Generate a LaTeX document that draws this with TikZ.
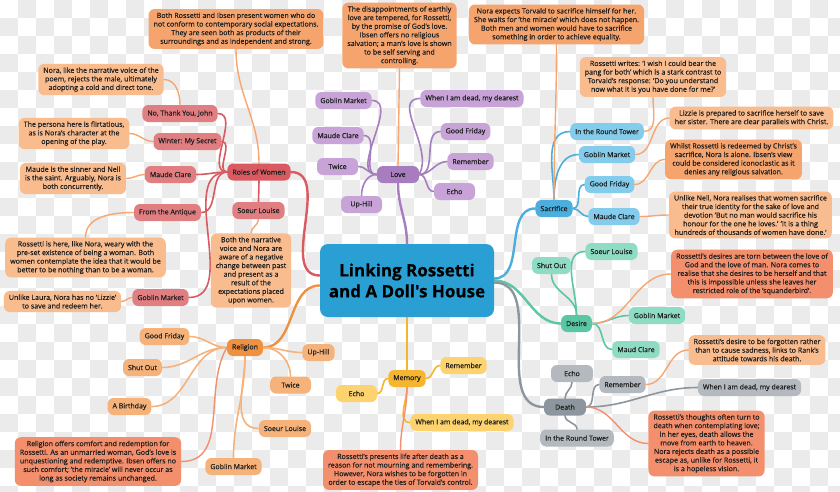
\documentclass[tikz,border=0pt]{standalone}
\usepackage{fontspec}
\setmainfont{Open Sans}[FakeBold=0.5]
\newfontfamily\titlefont{Open Sans}[FakeBold=0.3]
\definecolor{txt}{HTML}{1E1E1E}
\definecolor{chk}{HTML}{EBEBEB}
\definecolor{central}{HTML}{2A9FD4}
\definecolor{rolesM}{HTML}{D95A60}
\definecolor{rolesS}{HTML}{E17E82}
\definecolor{relM}{HTML}{EE9241}
\definecolor{relS}{HTML}{F5B37B}
\definecolor{loveM}{HTML}{A77DBF}
\definecolor{loveS}{HTML}{C7A3D8}
\definecolor{memM}{HTML}{F6B52E}
\definecolor{memS}{HTML}{FCD36F}
\definecolor{sacM}{HTML}{4BAEDC}
\definecolor{sacS}{HTML}{84CCEB}
\definecolor{desM}{HTML}{5AC6A4}
\definecolor{desS}{HTML}{8FDCC4}
\definecolor{deaM}{HTML}{8D969E}
\definecolor{deaS}{HTML}{B3B9BE}
\definecolor{cDark}{HTML}{F5A46E}
\definecolor{cLight}{HTML}{F9BC8F}
\definecolor{cSalmon}{HTML}{F38F6C}
\definecolor{lineO}{HTML}{F8A66F}
\pgfdeclarelayer{chkl}
\pgfdeclarelayer{bg}
\pgfsetlayers{chkl,bg,main}
\begin{document}
\begin{tikzpicture}[x=1pt,y=-1pt,
  lbl/.style={rounded corners=6pt, minimum height=17pt, inner xsep=5pt, inner ysep=0pt, font=\fontsize{7}{8}\selectfont, text=txt},
  cmt/.style={rounded corners=6pt, align=center, font=\fontsize{7.1}{8.6}\selectfont, inner xsep=5pt, inner ysep=3.5pt, text=txt},
  ln/.style={line width=1.6pt, line cap=round},
  mln/.style={line width=2.4pt, line cap=round},
  cln/.style={line width=1.4pt, line cap=round, lineO},
]
\useasboundingbox (0,0) rectangle (840,491);
\begin{pgfonlayer}{chkl}
\fill[white] (0,0) rectangle (840,491);
\foreach \i in {0,2,...,46}{\foreach \j in {1,3,...,27}{\fill[chk] (\i*18,\j*18) rectangle ++(18,18);}}
\foreach \i in {1,3,...,45}{\foreach \j in {0,2,...,26}{\fill[chk] (\i*18,\j*18) rectangle ++(18,18);}}
\end{pgfonlayer}

% central
\node[fill=central, rounded corners=8pt, minimum width=174pt, minimum height=73pt, align=center, text=black, font=\titlefont\fontsize{17}{21}\selectfont\bfseries] (main) at (407,280.5) {Linking Rossetti\\and A Doll's House};

% Roles of Women
\node[lbl,fill=rolesM] (roles) at (259,172) {Roles of Women};
\node[lbl,fill=rolesS] (rJohn) at (180,113.5) {No, Thank You, John};
\node[lbl,fill=rolesS] (rWinter) at (187.5,141.5) {Winter: My Secret};
\node[lbl,fill=rolesS] (rMaude) at (170.5,174.5) {Maude Clare};
\node[lbl,fill=rolesS] (rAntique) at (167.5,212.5) {From the Antique};
\node[lbl,fill=rolesS] (rSoeur) at (258.5,210.5) {Soeur Louise};
\node[lbl,fill=rolesS] (rGoblin) at (160.5,297.5) {Goblin Market};
\node[cmt,fill=cDark] (cRoles) at (236,29) {Both Rossetti and Ibsen present women who do\\not conform to contemporary social expectations.\\They are seen both as products of their\\surroundings and as independent and strong.};
\node[cmt,fill=cLight] (cNora) at (101,79.5) {Nora, like the narrative voice of the\\poem, rejects the male, ultimately\\adopting a cold and direct tone.};
\node[cmt,fill=cLight] (cPersona) at (74,133.5) {The persona here is flirtatious,\\as is Nora's character at the\\opening of the play.};
\node[cmt,fill=cLight] (cMaude) at (73,178.5) {Maude is the sinner and Nell\\is the saint. Arguably, Nora is\\both concurrently.};
\node[cmt,fill=cLight] (cWeary) at (85.5,257.5) {Rossetti is here, like Nora, weary with the\\pre-set existence of being a woman. Both\\women contemplate the idea that it would be\\better to be nothing than to be a woman.};
\node[cmt,fill=cLight] (cNarr) at (251,270.5) {Both the narrative\\voice and Nora are\\aware of a negative\\change between past\\and present as a\\result of the\\expectations placed\\upon women.};
\node[cmt,fill=cLight] (cLaura) at (62.5,301.5) {Unlike Laura, Nora has no 'Lizzie'\\to save and redeem her.};

% Religion
\node[lbl,fill=relM] (rel) at (245,347.5) {Religion};
\node[lbl,fill=relS] (gGood) at (164.5,336.5) {Good Friday};
\node[lbl,fill=relS] (gShut) at (142.5,367.5) {Shut Out};
\node[lbl,fill=relS] (gBirth) at (129.5,406.5) {A Birthday};
\node[lbl,fill=relS] (gUp) at (318.5,352.5) {Up-Hill};
\node[lbl,fill=relS,minimum width=41pt] (gTwice) at (290.5,385) {Twice};
\node[lbl,fill=relS] (gSoeur) at (285,428.5) {Soeur Louise};
\node[lbl,fill=relS] (gGoblin) at (233.5,466.5) {Goblin Market};
\node[cmt,fill=cSalmon] (cRel) at (98,461.5) {Religion offers comfort and redemption for\\Rossetti. As an unmarried woman, God's love is\\unquestioning and redemptive. Ibsen offers no\\such comfort; 'the miracle' will never occur as\\long as society remains unchanged.};

% Love
\node[lbl,fill=loveM,minimum width=42pt] (love) at (398,174.5) {Love};
\node[lbl,fill=loveS] (lGoblin) at (343.5,100.5) {Goblin Market};
\node[lbl,fill=loveS] (lWhen) at (472,98.5) {When I am dead, my dearest};
\node[lbl,fill=loveS] (lMaude) at (338,135.5) {Maude Clare};
\node[lbl,fill=loveS] (lGood) at (465.5,131.5) {Good Friday};
\node[lbl,fill=loveS,minimum width=41pt] (lTwice) at (337.5,166.5) {Twice};
\node[lbl,fill=loveS] (lRem) at (470.5,161.5) {Remember};
\node[lbl,fill=loveS,minimum width=41pt] (lEcho) at (454.5,191.5) {Echo};
\node[lbl,fill=loveS,minimum width=41pt] (lUp) at (361.5,204.5) {Up-Hill};
\node[cmt,fill=cDark] (cLove) at (399.5,35.5) {The disappointments of earthly\\love are tempered, for Rossetti,\\by the promise of God's love.\\Ibsen offers no religious\\salvation; a man's love is shown\\to be self serving and\\controlling.};

% Memory
\node[lbl,fill=memM] (mem) at (407,378.5) {Memory};
\node[lbl,fill=memS] (mRem) at (463.5,365.5) {Remember};
\node[lbl,fill=memS,minimum width=41pt] (mEcho) at (356.5,393.5) {Echo};
\node[lbl,fill=memS] (mWhen) at (462,422.5) {When I am dead, my dearest};
\node[cmt,fill=cSalmon] (cMem) at (400.5,470) {Rossetti's presents life after death as a\\reason for not mourning and remembering.\\However, Nora wishes to be forgotten in\\order to escape the ties of Torvald's control.};

% Sacrifice
\node[lbl,fill=sacM] (sac) at (554,208.5) {Sacrifice};
\node[lbl,fill=sacS] (sRound) at (607,131.5) {In the Round Tower};
\node[lbl,fill=sacS] (sGoblin) at (607,154.5) {Goblin Market};
\node[lbl,fill=sacS] (sGood) at (609.5,184.5) {Good Friday};
\node[lbl,fill=sacS] (sMaude) at (614,216.5) {Maude Clare};
\node[cmt,fill=cDark] (cSac) at (556.5,24.5) {Nora expects Torvald to sacrifice himself for her.\\She waits for 'the miracle' which does not happen.\\Both men and women would have to sacrifice\\something in order to achieve equality.};
\node[cmt,fill=cLight] (cWrites) at (653,77) {Rossetti writes: 'I wish I could bear the\\pang for both' which is a stark contrast to\\Torvald's response: 'Do you understand\\now what it is you have done for me?'};
\node[cmt,fill=cLight] (cLizzie) at (751.5,118) {Lizzie is prepared to sacrifice herself to save\\her sister. There are clear parallels with Christ.};
\node[cmt,fill=cDark] (cWhilst) at (733.5,159.5) {Whilst Rossetti is redeemed by Christ's\\sacrifice, Nora is alone. Ibsen's view\\could be considered iconoclastic as it\\denies any religious salvation.};
\node[cmt,fill=cLight] (cNell) at (750.5,215) {Unlike Nell, Nora realises that women sacrifice\\their true identity for the sake of love and\\devotion 'But no man would sacrifice his\\honour for the one he loves.' 'It is a thing\\hundreds of thousands of women have done.'};

% Desire
\node[lbl,fill=desM] (des) at (576.5,323.5) {Desire};
\node[lbl,fill=desS] (dSoeur) at (611.5,251.5) {Soeur Louise};
\node[lbl,fill=desS] (dShut) at (551.5,265.5) {Shut Out};
\node[lbl,fill=desS] (dGoblin) at (657,315.5) {Goblin Market};
\node[lbl,fill=desS] (dMaud) at (636,349.5) {Maud Clare};
\node[cmt,fill=cSalmon] (cDes) at (752,274) {Rossetti's desires are torn between the love of\\God and the love of man. Nora comes to\\realise that she desires to be herself and that\\this is impossible unless she leaves her\\restricted role of the 'squanderbird'.};

% Death
\node[lbl,fill=deaM,minimum width=42pt] (death) at (565,407) {Death};
\node[lbl,fill=deaS,minimum width=42pt] (eEcho) at (572,373.5) {Echo};
\node[lbl,fill=deaS] (eRem) at (622.5,384.5) {Remember};
\node[lbl,fill=deaS] (eWhen) at (749.5,387.5) {When I am dead, my dearest};
\node[lbl,fill=deaS] (eRound) at (577,438) {In the Round Tower};
\node[cmt,fill=cLight] (cRank) at (757,350) {Rossetti's desire to be forgotten rather\\than to cause sadness, links to Rank's\\attitude towards his death.};
\node[cmt,fill=cSalmon] (cThoughts) at (706.5,443.5) {Rossetti's thoughts often turn to\\death when contemplating love;\\in her eyes, death allows the\\move from earth to heaven.\\Nora rejects death as a possible\\escape as, unlike for Rossetti, it\\is a hopeless vision.};

\begin{pgfonlayer}{bg}
% Roles
\draw[mln,rolesM] (roles.east) to[out=0,in=180] ([yshift=5pt]main.west);
\draw[ln,rolesM] (roles.west) to[out=180,in=0] (rJohn.east);
\draw[ln,rolesM] (roles.west) to[out=180,in=0] (rWinter.east);
\draw[ln,rolesM] (roles.west) to[out=180,in=0] (rMaude.east);
\draw[ln,rolesM] (roles.west) to[out=180,in=0] (rAntique.east);
\draw[ln,rolesM] (roles.west) to[out=180,in=0] (rGoblin.east);
\draw[ln,rolesM] (roles.south) -- (rSoeur.north);
\draw[cln] (cRoles.south) to[out=-90,in=90] (roles.north);
\draw[cln] (cNora.east) to[out=0,in=90] (rJohn.north);
\draw[cln] (cPersona.east) to[out=0,in=180] (rWinter.west);
\draw[cln] (cMaude.east) to[out=0,in=180] (rMaude.west);
\draw[cln] (cWeary.north) to[out=90,in=180] (rAntique.west);
\draw[cln] (cLaura.east) to[out=0,in=180] (rGoblin.west);
\draw[cln] (rSoeur.south) to[out=-90,in=90] (cNarr.north);
% Religion
\draw[mln,relM] (rel.east) to[out=0,in=180] ([yshift=-5pt]main.west);
\draw[ln,relS] (rel.west) to[out=180,in=0] (gGood.east);
\draw[ln,relS] (rel.west) to[out=180,in=0] (gShut.east);
\draw[ln,relS] (rel.west) to[out=180,in=0] (gBirth.east);
\draw[ln,relS] (rel.east) to[out=0,in=180] (gUp.west);
\draw[ln,relS] (rel.east) to[out=0,in=90] (gTwice.north);
\draw[ln,relS] (rel.south) to[out=-90,in=180] (gSoeur.west);
\draw[ln,relS] (rel.south) to[out=-90,in=90] (gGoblin.north);
\draw[cln,cSalmon] (rel.west) to[out=-120,in=0] (cRel.east);
% Love
\draw[mln,loveM] (main.north) to[out=90,in=-90] (love.south);
\draw[ln,loveM] (love.west) to[out=180,in=0] (lGoblin.east);
\draw[ln,loveM] (love.west) to[out=180,in=0] (lMaude.east);
\draw[ln,loveM] (love.west) to[out=180,in=0] (lTwice.east);
\draw[ln,loveM] (love.west) to[out=180,in=90] (lUp.north);
\draw[ln,loveM] (love.east) to[out=60,in=180] (lWhen.west);
\draw[ln,loveM] (love.east) to[out=0,in=180] (lGood.west);
\draw[ln,loveM] (love.east) to[out=0,in=180] (lRem.west);
\draw[ln,loveM] (love.east) to[out=0,in=180] (lEcho.west);
\draw[cln] (cLove.south) -- (love.north);
% Memory
\draw[mln,memM] (main.south) -- (mem.north);
\draw[ln,memM] (mem.east) to[out=0,in=180] (mRem.west);
\draw[ln,memM] (mem.west) to[out=180,in=0] (mEcho.east);
\draw[ln,memM] (mem.south) to[out=-90,in=180] (mWhen.west);
\draw[cln,cSalmon] (mem.south) to[out=-90,in=90] (cMem.north);
% Sacrifice
\draw[mln,sacM] ([yshift=2pt]main.east) to[out=0,in=180] (sac.west);
\draw[ln,sacM] (sac.north) to[out=90,in=180] (sRound.west);
\draw[ln,sacM] (sac.north) to[out=90,in=180] (sGoblin.west);
\draw[ln,sacM] (sac.east) to[out=0,in=180] (sGood.west);
\draw[ln,sacM] (sac.east) to[out=0,in=180] (sMaude.west);
\draw[cln] (cSac.south) to[out=-90,in=90] (sac.north);
\draw[cln] (sRound.east) to[out=0,in=-90] (cWrites.south);
\draw[cln] (sGoblin.east) to[out=0,in=180] (cLizzie.west);
\draw[cln] (sGood.east) to[out=0,in=180] (cWhilst.west);
\draw[cln] (sMaude.east) to[out=0,in=180] (cNell.west);
% Desire
\draw[mln,desM] (main.east) to[out=0,in=180] (des.west);
\draw[ln,desM] (des.north) to[out=90,in=180] (dSoeur.west);
\draw[ln,desM] (des.north) to[out=90,in=-90] (dShut.south);
\draw[ln,desM] (des.east) to[out=0,in=180] (dGoblin.west);
\draw[ln,desM] (des.east) to[out=0,in=180] (dMaud.west);
\draw[cln] (des.east) to[out=0,in=180] (cDes.west);
% Death
\draw[mln,deaM] ([yshift=-2pt]main.east) to[out=0,in=180] (death.west);
\draw[ln,deaM] (death.north) to[out=90,in=-90] (eEcho.south);
\draw[ln,deaM] (death.east) to[out=0,in=180] (eRem.west);
\draw[ln,deaM] (death.east) to[out=0,in=180] (eWhen.west);
\draw[ln,deaM] (death.south) to[out=-90,in=90] (eRound.north);
\draw[cln] (eRem.east) to[out=0,in=180] (cRank.west);
\draw[cln,cSalmon] (death.east) to[out=0,in=180] (cThoughts.west);
\end{pgfonlayer}
\end{tikzpicture}
\end{document}
